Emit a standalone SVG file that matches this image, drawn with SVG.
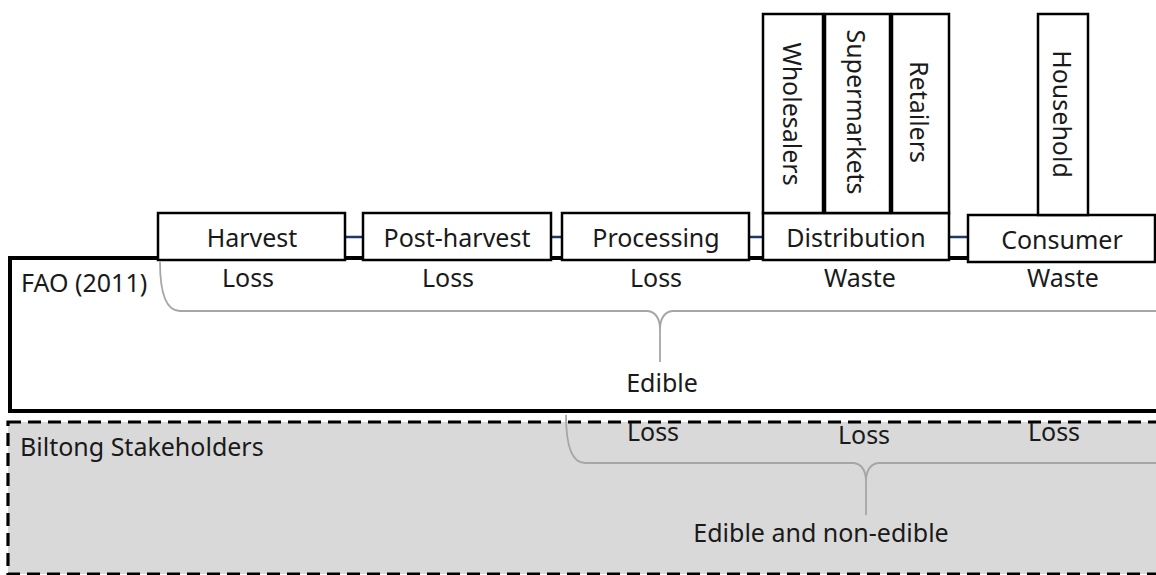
<svg xmlns="http://www.w3.org/2000/svg" width="1156" height="575" viewBox="0 0 1156 575">
<style>
.box{fill:#fff;stroke:#000;stroke-width:2.5}
.t{font-family:"Noto Sans","Open Sans",sans-serif;font-size:25px;fill:#1a1a1a}
.c{text-anchor:middle}
.v{text-anchor:middle;dominant-baseline:central}
.brace{fill:none;stroke:#a6a6a6;stroke-width:1.8}
.conn{stroke:#1f3864;stroke-width:2.5}
</style>
<rect width="1156" height="575" fill="#fff"/>
<g id="stakeholders-region">
<rect x="8" y="422" width="1160" height="152" fill="#d9d9d9" stroke="#000" stroke-width="3.2" stroke-dasharray="13,7"/>
<text class="t" x="20" y="456">Biltong Stakeholders</text>
</g>
<g id="fao-region">
<rect x="10" y="258" width="1160" height="153" fill="#fff" stroke="#000" stroke-width="4"/>
<text class="t" x="21" y="292">FAO (2011)</text>
</g>
<g id="connectors">
<line class="conn" x1="345" y1="237" x2="363" y2="237"/>
<line class="conn" x1="551" y1="237" x2="562" y2="237"/>
<line class="conn" x1="749" y1="237" x2="763" y2="237"/>
<line class="conn" x1="949" y1="237" x2="968" y2="237"/>
</g>
<g id="harvest"><rect class="box" x="158" y="213" width="187" height="47"/><text class="t c" x="252" y="247">Harvest</text></g>
<g id="post-harvest"><rect class="box" x="363" y="213" width="188" height="47"/><text class="t c" x="457" y="247">Post-harvest</text></g>
<g id="processing"><rect class="box" x="562" y="213" width="187" height="47"/><text class="t c" x="656" y="247">Processing</text></g>
<g id="distribution"><rect class="box" x="763" y="213" width="186" height="47"/><text class="t c" x="856" y="247">Distribution</text></g>
<g id="consumer"><rect class="box" x="968" y="215" width="187" height="47"/><text class="t c" x="1062" y="249">Consumer</text></g>
<g id="wholesalers"><rect class="box" x="763" y="14" width="60" height="199"/><text class="t v" transform="translate(793,114) rotate(90)">Wholesalers</text></g>
<g id="supermarkets"><rect class="box" x="825" y="14" width="65" height="199"/><text class="t v" transform="translate(857,112) rotate(90)">Supermarkets</text></g>
<g id="retailers"><rect class="box" x="892" y="14" width="57" height="199"/><text class="t v" transform="translate(920,112) rotate(90)">Retailers</text></g>
<g id="household"><rect class="box" x="1038" y="14" width="50" height="201"/><text class="t v" transform="translate(1063,114) rotate(90)">Household</text></g>
<g id="fao-labels">
<text class="t c" x="248" y="287">Loss</text>
<text class="t c" x="448" y="287">Loss</text>
<text class="t c" x="656" y="287">Loss</text>
<text class="t c" x="860" y="287">Waste</text>
<text class="t c" x="1063" y="287">Waste</text>
<path class="brace" d="M160,262 Q160,311 180,311 L648,311 Q660,313 660,330 L660,362 M660,330 Q660,313 672,311 L1160,311"/>
<text class="t c" x="662" y="392">Edible</text>
</g>
<g id="stakeholder-labels">
<text class="t c" x="653" y="441">Loss</text>
<text class="t c" x="864" y="444">Loss</text>
<text class="t c" x="1054" y="441">Loss</text>
<path class="brace" d="M566,415 Q566,463 585,463 L854,463 Q866,465 866,482 L866,515 M866,482 Q866,465 878,463 L1160,463"/>
<text class="t c" x="821" y="542">Edible and non-edible</text>
</g>
</svg>
